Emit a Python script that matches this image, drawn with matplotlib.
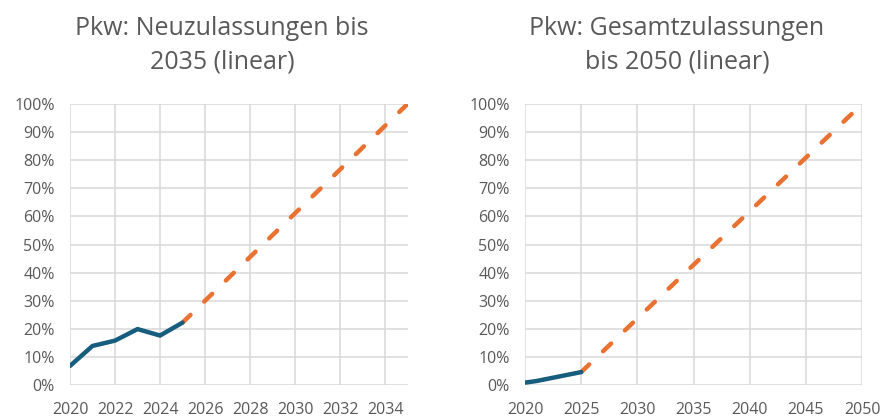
import matplotlib
matplotlib.use("Agg")
import matplotlib.pyplot as plt
from matplotlib.ticker import PercentFormatter

plt.rcParams['font.family'] = ['Open Sans', 'DejaVu Sans']

# Neuzulassungen (Anteil), Ist-Werte und linearer Pfad bis 2035
neu_years = [2020, 2021, 2022, 2023, 2024, 2025]
neu_share = [6.8, 13.9, 15.8, 19.9, 17.6, 22.2]
neu_proj_years = [2025, 2035]
neu_proj_share = [22.2, 100]

# Gesamtzulassungen (Bestand), Ist-Werte und linearer Pfad bis 2050
ges_years = [2020, 2021, 2022, 2023, 2024, 2025]
ges_share = [0.85, 1.4, 2.2, 3.0, 3.8, 4.6]
ges_proj_years = [2025, 2050]
ges_proj_share = [4.6, 100]

titles = ["Pkw: Neuzulassungen bis\n2035 (linear)",
          "Pkw: Gesamtzulassungen\nbis 2050 (linear)"]

blue = '#175E7E'
orange = '#E97132'
grid = '#D9D9D9'
text = '#595959'

fig = plt.figure(figsize=(8.83, 4.16), dpi=100)
ax1 = fig.add_axes([0.0793, 0.0745, 0.3822, 0.6755])
ax2 = fig.add_axes([0.5946, 0.0745, 0.3817, 0.6755])


def style(ax, xticks, xmax):
    ax.set_xlim(2020, xmax)
    ax.set_ylim(0, 100)
    ax.set_xticks(xticks)
    ax.set_yticks(range(0, 101, 10))
    ax.yaxis.set_major_formatter(PercentFormatter(decimals=0))
    ax.grid(True, color=grid, linewidth=1.1)
    ax.set_axisbelow(True)
    for s in ax.spines.values():
        s.set_visible(False)
    ax.tick_params(length=0, labelsize=11.5, labelcolor=text)
    ax.tick_params(axis='y', pad=11)
    ax.tick_params(axis='x', pad=12)


style(ax1, range(2020, 2035, 2), 2035)
style(ax2, range(2020, 2051, 5), 2050)

for ax, y, s, py, ps in [(ax1, neu_years, neu_share, neu_proj_years, neu_proj_share),
                         (ax2, ges_years, ges_share, ges_proj_years, ges_proj_share)]:
    ax.plot(py, ps, color=orange, linewidth=3.2, dashes=(2.5, 4.3),
            dash_capstyle='round', solid_capstyle='round')
    ax.plot(y, s, color=blue, linewidth=3.2, solid_capstyle='round',
            solid_joinstyle='round')

fig.text(0.2514, 0.892, titles[0], ha='center', va='center', fontsize=18,
         color=text, linespacing=1.44)
fig.text(0.7667, 0.892, titles[1], ha='center', va='center', fontsize=18,
         color=text, linespacing=1.44)

fig.savefig('out.png', dpi=100)
